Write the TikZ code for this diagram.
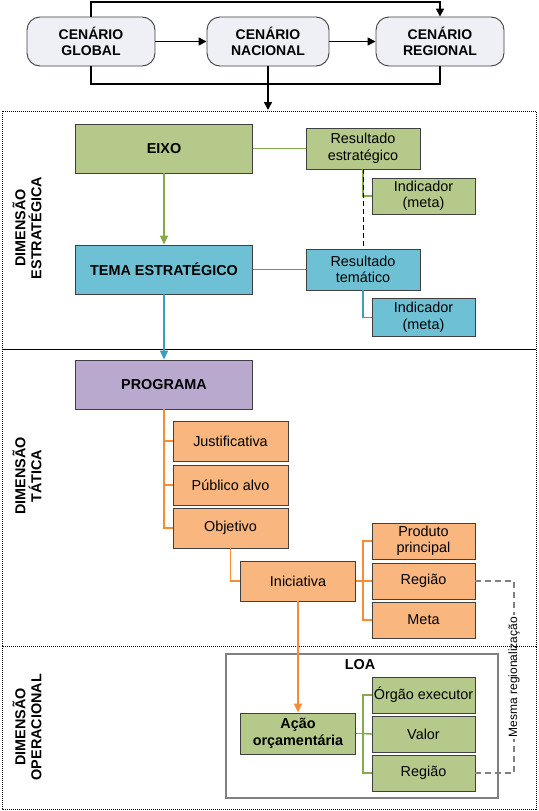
\documentclass[tikz,border=0pt]{standalone}
\usepackage{fontspec}
\setmainfont{Liberation Sans}
\usetikzlibrary{arrows.meta}
\definecolor{gfill}{HTML}{B5CA8A}
\definecolor{gline}{HTML}{86AA48}
\definecolor{bfill}{HTML}{6EC1D5}
\definecolor{bline}{HTML}{3A9FBD}
\definecolor{pfill}{HTML}{B9A9CF}
\definecolor{ofill}{HTML}{F9B67E}
\definecolor{oline}{HTML}{F78C35}
\definecolor{sfill}{HTML}{EEF0F5}
\definecolor{bord}{HTML}{404040}
\begin{document}
\begin{tikzpicture}[x=1pt,y=-1pt,
  sz/.style 2 args={minimum width=#1, minimum height=#2},
  basebox/.style={draw=bord, line width=0.9pt, inner sep=1pt, align=center, font=\fontsize{14.4}{16.5}\selectfont},
  boldbox/.style={basebox, font=\fontsize{14.4}{16.5}\selectfont\bfseries},
  scenbox/.style={draw=bord, line width=0.9pt, fill=sfill, rounded corners=13pt, align=center, font=\fontsize{14}{16.5}\selectfont\bfseries, inner sep=1pt},
  greenbox/.style={fill=gfill},
  bluebox/.style={fill=bfill},
  purplebox/.style={fill=pfill},
  orangebox/.style={fill=ofill},
  secframe/.style={draw=black, line width=0.9pt, dash pattern=on 1pt off 1pt},
  seclabel/.style={rotate=90, align=center, font=\fontsize{14.4}{16}\selectfont\bfseries},
  conn/.style={line width=1.6pt},
  vconn/.style={line width=1.9pt},
  blacktip/.style={-{Triangle[length=8pt,width=8pt]}},
  coltip/.style={-{Triangle[length=9pt,width=8pt]}},
  mrline/.style={draw=gray, line width=1.4pt, dash pattern=on 6pt off 4pt}
]
\useasboundingbox (0,0) rectangle (538,811);
\fill[white] (0,0) rectangle (538,811);

% section frames
\draw[secframe] (2,111) rectangle (536,349);
\draw[secframe] (2,349) rectangle (536,646);
\draw[secframe] (2,646) rectangle (536,809);

\node[seclabel] (lab1) at (27,228) {DIMENSÃO\\ESTRATÉGICA};
\node[seclabel] (lab2) at (27,476) {DIMENSÃO\\TÁTICA};
\node[seclabel] (lab3) at (27,727) {DIMENSÃO\\OPERACIONAL};

% scenarios
\node[scenbox, sz={128pt}{49pt}] (glob) at (91,41.5) {CENÁRIO\\GLOBAL};
\node[scenbox, sz={122pt}{49pt}] (nac) at (268,41.5) {CENÁRIO\\NACIONAL};
\node[scenbox, sz={128pt}{49pt}] (reg) at (440,41.5) {CENÁRIO\\REGIONAL};
\coordinate (ytop) at (0,2);
\coordinate (ybot) at (0,84);
\coordinate (secA) at (268,110);
\draw[conn, blacktip] (glob.east) -- (nac.west);
\draw[conn, blacktip] (nac.east) -- (reg.west);
\draw[conn, blacktip] (glob.north) -- (glob.north |- ytop) -- (reg.north |- ytop) -- (reg.north);
\draw[conn] (glob.south) -- (glob.south |- ybot) -- (reg.south |- ybot) -- (reg.south);
\draw[conn, blacktip] (nac.south) -- (secA);

% strategic
\node[boldbox, greenbox, sz={177pt}{49pt}] (eixo) at (164,148.5) {EIXO};
\node[basebox, greenbox, sz={114pt}{41pt}] (res1) at (363,148.5) {Resultado\\estratégico};
\node[basebox, greenbox, sz={103pt}{36pt}] (ind1) at (423.5,196) {Indicador\\(meta)};
\node[boldbox, bluebox, sz={177pt}{49pt}] (tema) at (164,269.5) {TEMA ESTRATÉGICO};
\node[basebox, bluebox, sz={114pt}{41pt}] (res2) at (363,269.5) {Resultado\\temático};
\node[basebox, bluebox, sz={103pt}{38pt}] (ind2) at (423.5,317.5) {Indicador\\(meta)};

\draw[conn, draw=gline] (eixo.east) -- (res1.west);
\draw[conn, draw=gline] (res1.south) |- (ind1.west);
\draw[line width=1pt, dash pattern=on 5pt off 3pt] (res1.south) -- (res2.north);
\draw[vconn, draw=gline, fill=gline, coltip] (eixo.south) -- (tema.north);
\draw[conn, draw=bline] (tema.east) -- (res2.west);
\draw[conn, draw=bline] (res2.south) |- (ind2.west);

% tactical
\node[boldbox, purplebox, sz={177pt}{49pt}] (prog) at (164,384.5) {PROGRAMA};
\draw[vconn, draw=bline, fill=bline, coltip] (tema.south) -- (prog.north);
\node[basebox, orangebox, sz={115pt}{40pt}] (just) at (230.5,441) {Justificativa};
\node[basebox, orangebox, sz={115pt}{40pt}] (pub) at (230.5,485) {Público alvo};
\node[basebox, orangebox, sz={115pt}{40pt}] (obj) at (230.5,528) {Objetivo};
\node[basebox, orangebox, sz={115pt}{40pt}] (ini) at (298,581) {Iniciativa};
\node[basebox, orangebox, sz={103pt}{36pt}] (prod) at (423.5,541) {Produto\\principal};
\node[basebox, orangebox, sz={103pt}{36pt}] (reg1) at (423.5,581) {Região};
\node[basebox, orangebox, sz={103pt}{36pt}] (meta) at (423.5,620) {Meta};

\draw[conn, draw=oline] (prog.south) |- (just.west);
\draw[conn, draw=oline] (prog.south) |- (pub.west);
\draw[conn, draw=oline] (prog.south) |- (obj.west);
\draw[conn, draw=oline] (obj.south) |- (ini.west);
\coordinate (iniJ) at (363,581);
\draw[conn, draw=oline] (ini.east) -- (iniJ);
\draw[conn, draw=oline] (iniJ) |- (prod.west);
\draw[conn, draw=oline] (iniJ) |- (meta.west);
\draw[conn, draw=oline] (iniJ) -- (reg1.west);

% operational
\draw[draw=gray, line width=1.1pt] (226,654) rectangle (498,798);
\node[font=\fontsize{14.4}{16}\selectfont\bfseries] (loa) at (360,665) {LOA};
\node[boldbox, greenbox, sz={115pt}{41pt}] (acao) at (298,733.5) {Ação\\orçamentária};
\node[basebox, greenbox, sz={103pt}{36pt}] (org) at (423.5,695) {Órgão executor};
\node[basebox, greenbox, sz={103pt}{36pt}] (valor) at (423.5,734) {Valor};
\node[basebox, greenbox, sz={103pt}{36pt}] (reg2) at (423.5,773) {Região};
\draw[vconn, draw=oline, fill=oline, coltip] (ini.south) -- (acao.north);
\coordinate (acaoJ) at (363,733.5);
\draw[conn, draw=gline] (acao.east) -- (acaoJ);
\draw[conn, draw=gline] (acaoJ) |- (org.west);
\draw[conn, draw=gline] (acaoJ) |- (reg2.west);
\draw[conn, draw=gline] (acaoJ) -- (valor.west);

% mesma regionalizacao
\node[rotate=90, font=\fontsize{12}{14}\selectfont, inner sep=2pt] (mr) at (514,677) {Mesma regionalização};
\draw[mrline] (reg1.east) -| (mr.east);
\draw[mrline] (reg2.east) -| (mr.west);
\end{tikzpicture}
\end{document}
